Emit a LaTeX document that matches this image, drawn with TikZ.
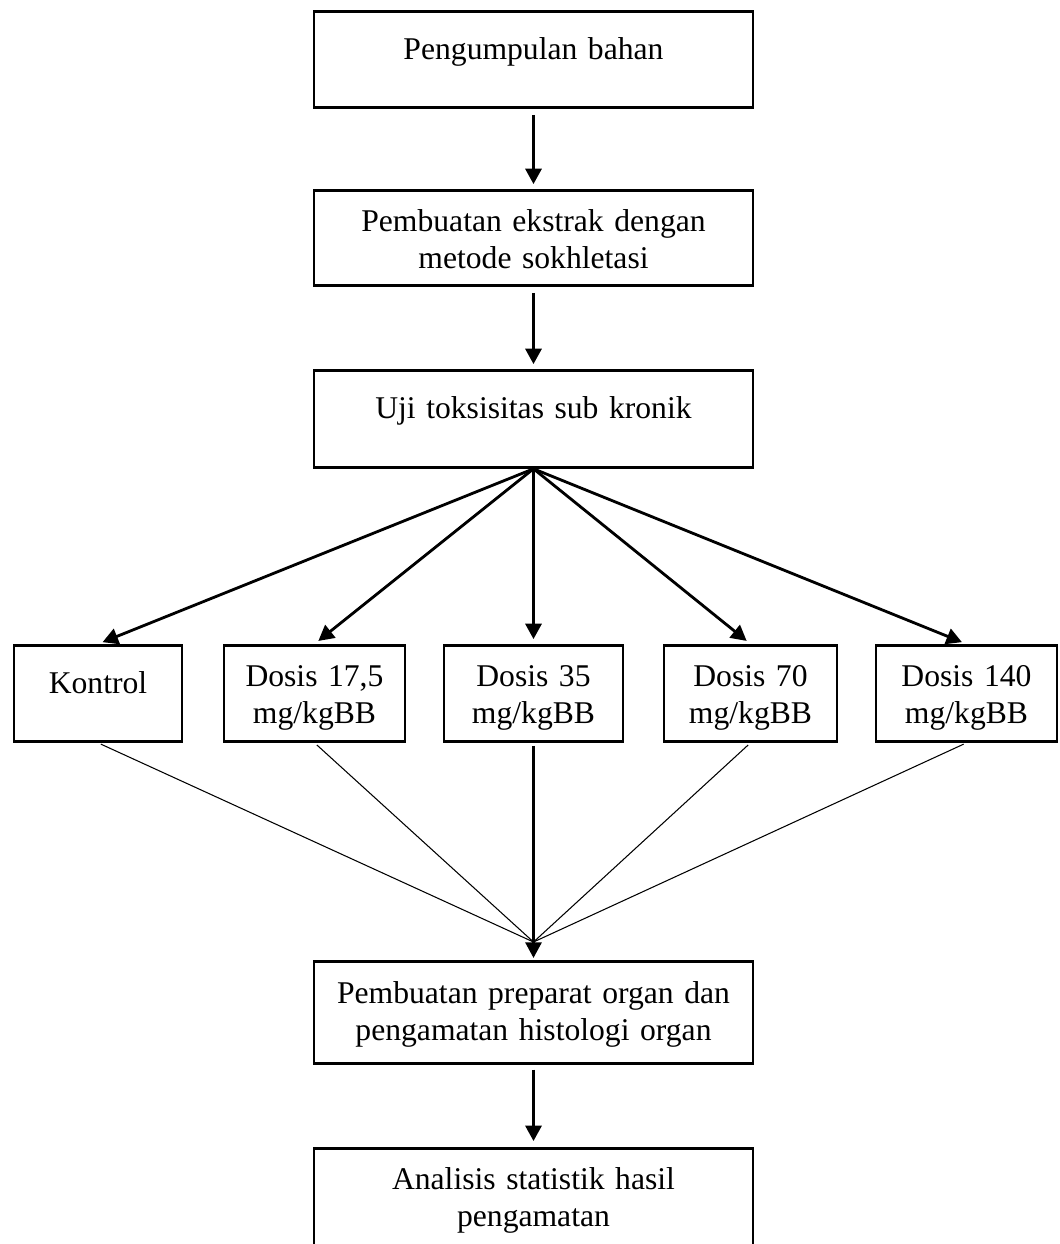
\documentclass[tikz,border=0pt]{standalone}
\usepackage{fontspec}
\setmainfont{Liberation Serif}
\usetikzlibrary{arrows.meta}

\begin{document}
\begin{tikzpicture}[x=1cm, y=1cm, >={Triangle[length=4.4pt, width=4.6pt]},
    box/.style={draw, line width=0.8pt, anchor=north, inner sep=0pt, align=center,
        font=\fontsize{9}{10.6}\selectfont},
    flow/.style={->, line width=0.8pt},
    tipis/.style={line width=0.3pt}]
    \useasboundingbox (0,0) rectangle (10.59,-12.44);
    \clip (0,0) rectangle (10.59,-12.44);

    \node[box, text width=4.39cm, text height=0.48cm, text depth=0.48cm] (bahan) at (5.335,-0.10) {Pengumpulan bahan};
    \node[box, text width=4.39cm, text height=0.41cm, text depth=0.54cm] (ekstrak) at (5.335,-1.89) {Pembuatan ekstrak dengan\\ metode sokhletasi};
    \node[box, text width=4.39cm, text height=0.485cm, text depth=0.485cm] (uji) at (5.335,-3.69) {Uji toksisitas sub kronik};

    \node[box, text width=1.68cm, text height=0.48cm, text depth=0.48cm] (k) at (0.98,-6.44) {Kontrol};
    \node[box, text width=1.81cm, text height=0.41cm, text depth=0.55cm] (d1) at (3.145,-6.44) {Dosis 17,5\\ mg/kgBB};
    \node[box, text width=1.79cm, text height=0.41cm, text depth=0.55cm] (d2) at (5.335,-6.44) {Dosis 35\\ mg/kgBB};
    \node[box, text width=1.73cm, text height=0.41cm, text depth=0.55cm] (d3) at (7.505,-6.44) {Dosis 70\\ mg/kgBB};
    \node[box, text width=1.81cm, text height=0.41cm, text depth=0.55cm] (d4) at (9.665,-6.44) {Dosis 140\\ mg/kgBB};

    \node[box, text width=4.39cm, text height=0.42cm, text depth=0.60cm] (prep) at (5.335,-9.60) {Pembuatan preparat organ dan\\ pengamatan histologi organ};
    \node[box, text width=4.39cm, text height=0.41cm, text depth=1.20cm] (stat) at (5.335,-11.47) {Analisis statistik hasil\\ pengamatan};

    \coordinate (temu) at (5.335,-9.42);

    \draw[flow, shorten <=1.7pt, shorten >=1.4pt] (bahan) -- (ekstrak);
    \draw[flow, shorten <=1.7pt, shorten >=1.4pt] (ekstrak) -- (uji);

    \draw[flow, shorten >=1.4pt] (uji.south) -- (k.north);
    \draw[flow, shorten >=1.4pt] (uji.south) -- (d1.north);
    \draw[flow, shorten >=1.4pt] (uji.south) -- (d2.north);
    \draw[flow, shorten >=1.4pt] (uji.south) -- (d3.north);
    \draw[flow, shorten >=1.4pt] (uji.south) -- (d4.north);

    \draw[tipis, shorten <=0.9pt] (k.south) -- (temu);
    \draw[tipis, shorten <=0.9pt] (d1.south) -- (temu);
    \draw[->, line width=0.6pt, shorten <=0.9pt, shorten >=0.6pt] (d2.south) -- (prep.north);
    \draw[tipis, shorten <=0.9pt] (d3.south) -- (temu);
    \draw[tipis, shorten <=0.9pt] (d4.south) -- (temu);

    \draw[flow, shorten <=1.4pt, shorten >=1.7pt] (prep) -- (stat);
\end{tikzpicture}
\end{document}
